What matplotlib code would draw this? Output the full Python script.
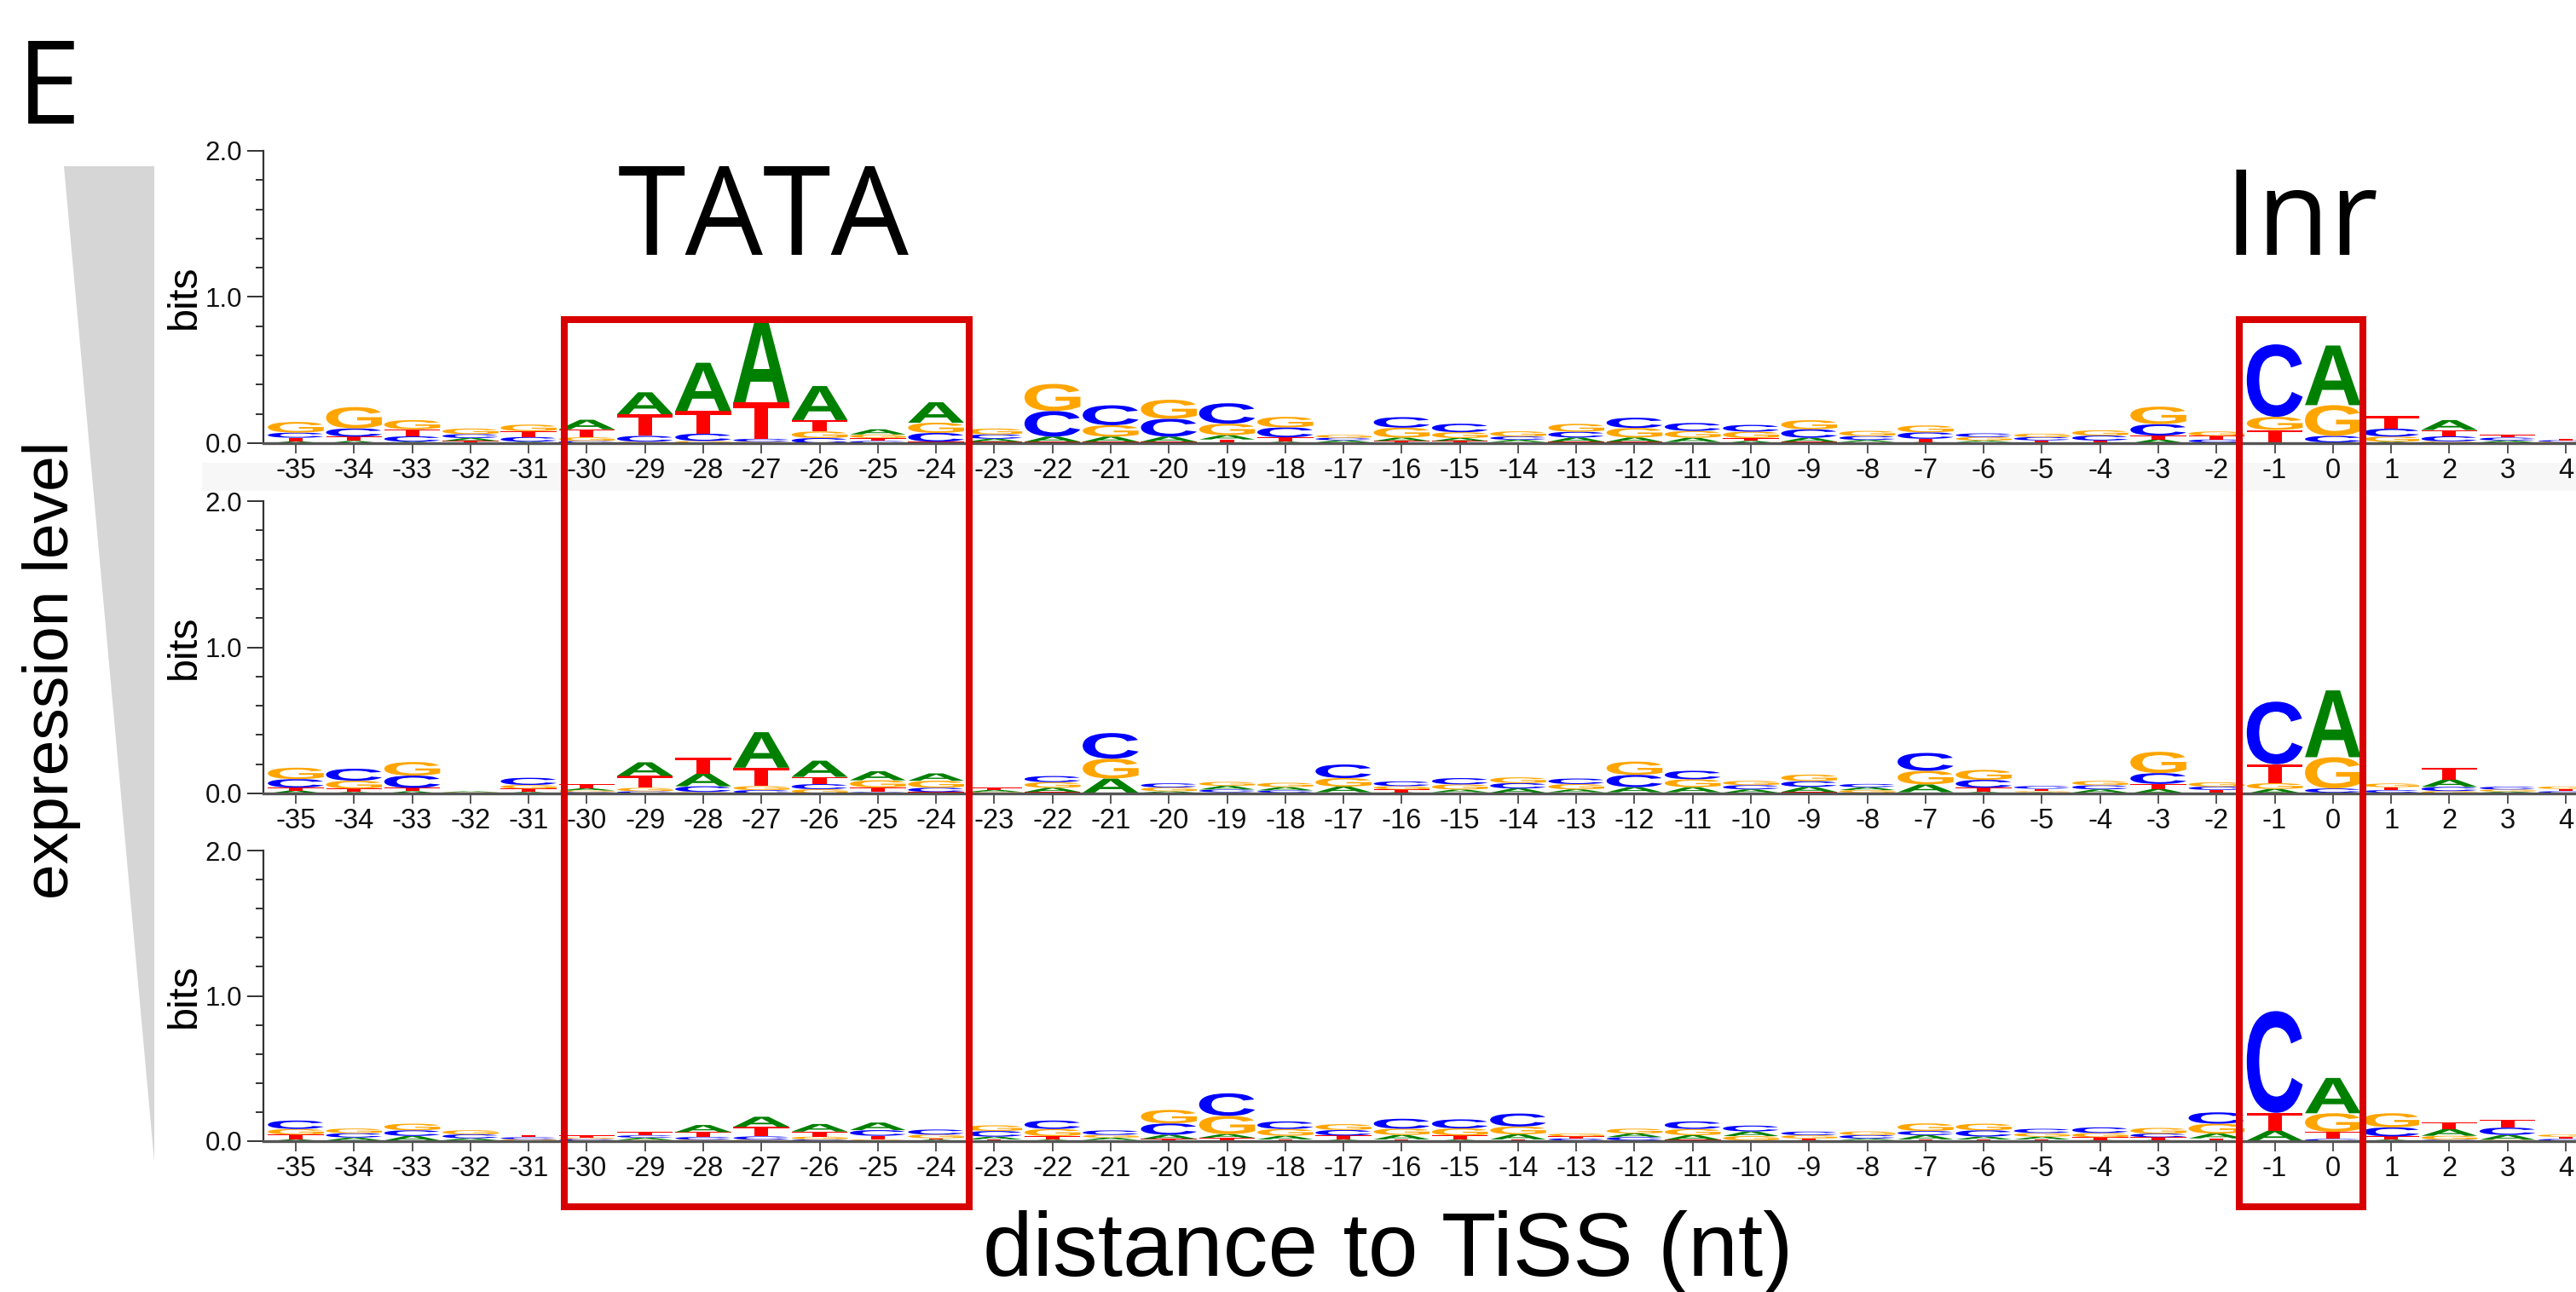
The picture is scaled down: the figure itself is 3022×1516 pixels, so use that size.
import numpy as np
import matplotlib
matplotlib.use("Agg")
import matplotlib.pyplot as plt
from matplotlib.textpath import TextPath
from matplotlib.font_manager import FontProperties
from matplotlib.patches import PathPatch, Rectangle, Polygon
from matplotlib.ticker import MultipleLocator
import matplotlib.transforms as mtransforms

# ---------------- data ----------------
positions = list(range(-35, 5))
tick_labels = [str(p) for p in positions]

# top panel (highest expression)
A_top = [.012,.015,.01,.02,.01,.065,.15,.33,.55,.233,.035,.14,.02,.035,.035,.035,.03,.01,.015,.023,
         .02,.015,.029,.029,.029,.015,.027,.014,.008,.01,.005,.006,.025,.005,.005,.408,.01,.068,.013,.005]
C_top = [.035,.056,.037,.027,.032,.015,.04,.05,.02,.035,.015,.06,.03,.175,.136,.122,.14,.068,.017,.072,
         .058,.023,.039,.07,.054,.046,.058,.027,.044,.025,.023,.034,.078,.02,.496,.045,.054,.035,.02,.01]
G_top = [.073,.146,.063,.038,.045,.025,.01,.015,.01,.045,.025,.07,.04,.185,.078,.13,.078,.072,.02,.068,
         .04,.035,.054,.065,.047,.044,.062,.035,.047,.024,.023,.036,.12,.03,.09,.21,.035,.012,.005,.005]
T_top = [.025,.03,.048,.015,.04,.055,.148,.155,.25,.078,.02,.01,.01,.01,.01,.01,.025,.03,.005,.015,
         .015,.008,.01,.01,.008,.02,.01,.008,.022,.008,.014,.012,.027,.025,.085,.005,.087,.043,.02,.01]

# middle panel
A_mid = [.02,.01,.015,.006,.01,.015,.093,.087,.243,.111,.062,.05,.014,.029,.097,.01,.025,.023,.039,.008,
         .019,.029,.02,.035,.035,.023,.035,.02,.054,.01,.008,.023,.03,.005,.031,.457,.005,.05,.008,.005]
C_mid = [.058,.082,.084,.003,.049,.01,.015,.039,.023,.035,.01,.029,.005,.042,.175,.028,.019,.016,.093,.033,
         .043,.037,.038,.084,.058,.029,.039,.022,.122,.054,.019,.028,.074,.023,.428,.029,.018,.029,.019,.01]
G_mid = [.078,.054,.093,.004,.025,.01,.023,.01,.027,.029,.049,.048,.005,.038,.136,.026,.027,.029,.058,.023,
         .035,.039,.036,.091,.054,.029,.045,.018,.093,.068,.008,.03,.146,.029,.039,.214,.025,.016,.014,.018]
T_mid = [.02,.023,.023,.002,.023,.031,.082,.107,.126,.049,.031,.01,.014,.01,.005,.005,.008,.005,.008,.019,
         .008,.005,.008,.008,.008,.005,.01,.005,.008,.029,.016,.005,.035,.019,.13,.005,.02,.082,.005,.015]

# bottom panel (lowest expression)
A_bot = [.012,.02,.031,.015,.005,.005,.016,.049,.07,.052,.052,.01,.019,.01,.016,.029,.025,.025,.01,.031,
         .01,.035,.005,.025,.031,.032,.008,.01,.029,.02,.019,.008,.008,.033,.068,.243,.01,.045,.033,.005]
C_bot = [.058,.03,.039,.027,.014,.01,.016,.019,.023,.012,.039,.035,.039,.058,.031,.078,.155,.052,.038,.068,
         .062,.089,.014,.023,.052,.04,.025,.024,.029,.043,.029,.039,.025,.078,.70,.015,.062,.01,.05,.01]
G_bot = [.039,.032,.045,.028,.008,.01,.008,.01,.01,.019,.012,.025,.039,.049,.019,.093,.126,.047,.04,.043,
         .049,.054,.019,.033,.043,.03,.023,.025,.052,.045,.025,.029,.039,.068,.005,.128,.097,.027,.01,.016]
T_bot = [.033,.005,.005,.005,.014,.014,.023,.033,.065,.035,.025,.01,.012,.025,.008,.015,.023,.012,.029,.012,
         .029,.012,.014,.005,.01,.005,.01,.008,.012,.012,.012,.019,.019,.019,.122,.049,.023,.049,.054,.015]

panels = [
    {"A": A_top, "C": C_top, "G": G_top, "T": T_top},
    {"A": A_mid, "C": C_mid, "G": G_mid, "T": T_mid},
    {"A": A_bot, "C": C_bot, "G": G_bot, "T": T_bot},
]

colors = {"A": "#008000", "C": "#0000ff", "G": "#ffa500", "T": "#ff0000"}

# ---------------- figure ----------------
W, H = 3022, 1516
fig = plt.figure(figsize=(W / 100, H / 100), dpi=100)
fig.patch.set_facecolor("white")

def fx(px):
    return px / W

def fy(py):
    return 1 - py / H

fp = FontProperties(family="Liberation Sans", weight="bold")
glyphs = {b: TextPath((0, 0), b, size=1, prop=fp) for b in "ACGT"}

def draw_letter(ax, base, x, y0, h, w=0.96):
    p = glyphs[base]
    ext = p.get_extents()
    t = (mtransforms.Affine2D().translate(-ext.x0, -ext.y0)
         .scale(w / ext.width, h / ext.height)
         .translate(x - w / 2, y0))
    ax.add_patch(PathPatch(t.transform_path(p), facecolor=colors[base],
                           edgecolor="none", transform=ax.transData, zorder=3))

# light band behind top tick labels
fig.add_artist(Rectangle((fx(237), fy(576)), fx(W) - fx(237), fy(543) - fy(576),
                         transform=fig.transFigure, facecolor="#f7f7f7", edgecolor="none", zorder=0))

# gray triangle
fig.add_artist(Polygon([(fx(75), fy(195)), (fx(181), fy(195)), (fx(181), fy(1363))],
                       closed=True, transform=fig.transFigure, facecolor="#d6d6d6",
                       edgecolor="none", zorder=0))

x_left_px, x_right_px = 309, 3044
xlim = (-35 + (309 - 347) / 68.28, 4 + (3044 - 3010) / 68.28)
panel_px = [(177, 520), (588, 931), (998, 1339)]  # (y at 2.0, y at 0.0)

for (ytop, ybot), data in zip(panel_px, panels):
    ax = fig.add_axes([fx(x_left_px), fy(ybot), fx(x_right_px) - fx(x_left_px), (ybot - ytop) / H])
    ax.set_facecolor("none")
    ax.set_xlim(*xlim)
    ax.set_ylim(0, 2.0)
    for i, pos in enumerate(positions):
        hs = sorted(((data[b][i], b) for b in "ACGT"), key=lambda t: t[0])
        y0 = 0.0
        for h, b in hs:
            if h > 0:
                draw_letter(ax, b, pos, y0, h)
            y0 += h
    for s in ("top", "right"):
        ax.spines[s].set_visible(False)
    ax.spines["left"].set_color("#333333")
    ax.spines["left"].set_linewidth(1.6)
    ax.spines["bottom"].set_color("#555555")
    ax.spines["bottom"].set_linewidth(2.4)
    ax.spines["bottom"].set_zorder(4)
    ax.set_xticks(positions)
    ax.set_xticklabels(tick_labels, fontsize=23.5, family="Liberation Sans", color="#111111")
    ax.tick_params(axis="x", direction="out", length=8.5, width=1.4, color="#555555", pad=3.5)
    ax.set_yticks([0, 1, 2])
    ax.set_yticklabels(["0.0", "1.0", "2.0"], fontsize=22.5, family="Liberation Sans", color="#111111")
    ax.yaxis.set_minor_locator(MultipleLocator(0.2))
    ax.tick_params(axis="y", which="major", direction="out", length=14, width=1.4, color="#333333", pad=4)
    ax.tick_params(axis="y", which="minor", direction="out", length=6.5, width=1.4, color="#333333")
    # "bits" label
    fig.text(fx(239), fy((ytop + ybot) / 2), "bits", rotation=90, ha="right", va="center",
             fontsize=35, family="Liberation Sans", color="black")

# red boxes
for (x0, x1) in [(662, 1137), (2627, 2772)]:
    fig.add_artist(Rectangle((fx(x0), fy(1416)), fx(x1) - fx(x0), fy(375) - fy(1416),
                             transform=fig.transFigure, facecolor="none", edgecolor="#d80000",
                             linewidth=5.8, zorder=10))

# texts
fig.text(fx(20), fy(145), "E", fontsize=97, family="Open Sans", ha="left", va="baseline")
fig.text(fx(896), fy(299), "TATA", fontsize=104, family="Open Sans", ha="center", va="baseline")
fig.text(fx(2700), fy(299), "Inr", fontsize=100, family="Open Sans", ha="center", va="baseline")
fig.text(fx(95), fy(786), "expression level", rotation=90, fontsize=54, family="Liberation Sans",
         ha="right", va="center")
fig.text(fx(1628), fy(1497), "distance to TiSS (nt)", fontsize=76, family="Liberation Sans",
         ha="center", va="baseline")

fig.savefig("out.png", dpi=100)
